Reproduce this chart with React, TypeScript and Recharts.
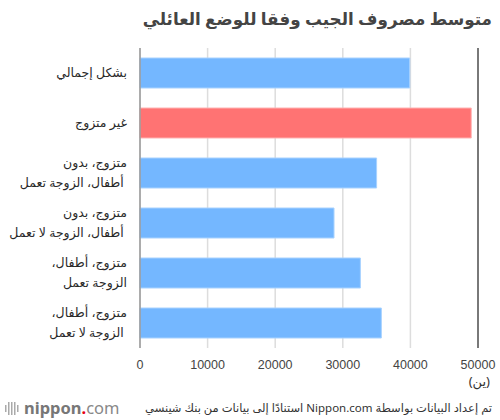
import { BarChart, Bar, XAxis, YAxis, CartesianGrid, ReferenceLine, Cell } from 'recharts'

const categories = [
  'بشكل إجمالي',
  'غير متزوج',
  'متزوج، بدون| أطفال، الزوجة تعمل',
  'متزوج، بدون| أطفال، الزوجة لا تعمل',
  'متزوج، أطفال،|الزوجة تعمل',
  'متزوج، أطفال،| الزوجة لا تعمل',
]
const spending = [39900, 49000, 35000, 28700, 32600, 35700]
const highlight = [false, true, false, false, false, false]
const xTicks = [0, 10000, 20000, 30000, 40000, 50000]

const BLUE = '#74b7ff'
const RED = '#ff7373'
const RLM = '\u200F'

const data = categories.map((name, i) => ({ name, value: spending[i], hot: highlight[i] }))

const CategoryTick = (props: any) => {
  const { x, y, payload } = props
  const lines: string[] = String(payload.value).split('|')
  const lineH = 20
  const top = y - ((lines.length - 1) * lineH) / 2
  return (
    <text
      x={x}
      y={top}
      textAnchor="end"
      fill="#2a2a2a"
      fontSize={12.5}
      fontFamily="'Noto Sans', 'DejaVu Sans', sans-serif"
    >
      {lines.map((l, i) => (
        <tspan key={i} x={x} y={top + i * lineH} dy="0.35em">
          {RLM + l + RLM}
        </tspan>
      ))}
    </text>
  )
}

export default function App() {
  return (
    <div style={{ position: 'absolute', top: 0, left: 0, width: 500, height: 420, background: '#fff', fontFamily: "'Noto Sans', 'DejaVu Sans', sans-serif" }}>
      <div
        dir="rtl"
        style={{ position: 'absolute', top: 7, right: 8, fontSize: 16.8, fontWeight: 700, color: '#444', whiteSpace: 'nowrap' }}
      >
        متوسط مصروف الجيب وفقا للوضع العائلي
      </div>
      <BarChart
        width={500}
        height={420}
        data={data}
        layout="vertical"
        margin={{ top: 48, right: 22, left: 0, bottom: 42 }}
        barCategoryGap={20}
      >
        <CartesianGrid horizontal={false} stroke="#dddddd" strokeWidth={1.5} />
        <XAxis
          type="number"
          domain={[0, 50000]}
          ticks={xTicks}
          axisLine={false}
          tickLine={false}
          height={30}
          tick={{ fill: '#444', fontSize: 12.5, fontFamily: "'Liberation Sans', Arial, sans-serif" }}
          tickMargin={6}
        />
        <YAxis
          type="category"
          dataKey="name"
          width={140}
          axisLine={{ stroke: '#999', strokeWidth: 1.5 }}
          tickLine={false}
          tick={<CategoryTick />}
          tickMargin={7}
        />
        <ReferenceLine x={50000} stroke="#555" strokeWidth={1.5} />
        <Bar dataKey="value" barSize={30} isAnimationActive={false}>
          {data.map((d, i) => (
            <Cell key={i} fill={d.hot ? RED : BLUE} stroke={d.hot ? '#ffb3b3' : '#a8d2ff'} strokeWidth={1} />
          ))}
        </Bar>
      </BarChart>
      <div style={{ position: 'absolute', top: 372, right: 10, fontSize: 13, color: '#333' }}>(ين)</div>
      <div style={{ position: 'absolute', top: 398, left: 5, display: 'flex', alignItems: 'center', color: '#888' }}>
        <svg width={15} height={13} style={{ marginRight: 4 }}>
          {[0, 3, 6, 9, 12].map((bx, i) => (
            <rect key={i} x={bx} y={i === 0 || i === 4 ? 3 : 0} width={1.5} height={i === 0 || i === 4 ? 7 : 13} fill="#aaa" />
          ))}
        </svg>
        <span style={{ fontSize: 16.5, fontWeight: 700, color: '#777', lineHeight: '20px' }}>nippon</span>
        <span style={{ fontSize: 16.5, color: '#e60012', lineHeight: '20px', fontWeight: 700 }}>.</span>
        <span style={{ fontSize: 16.5, color: '#888', lineHeight: '20px' }}>com</span>
      </div>
      <div
        dir="rtl"
        style={{ position: 'absolute', top: 400, right: 8, fontSize: 11.5, color: '#333', whiteSpace: 'nowrap' }}
      >
        تم إعداد البيانات بواسطة Nippon.com استنادًا إلى بيانات من بنك شينسي
      </div>
    </div>
  )
}
